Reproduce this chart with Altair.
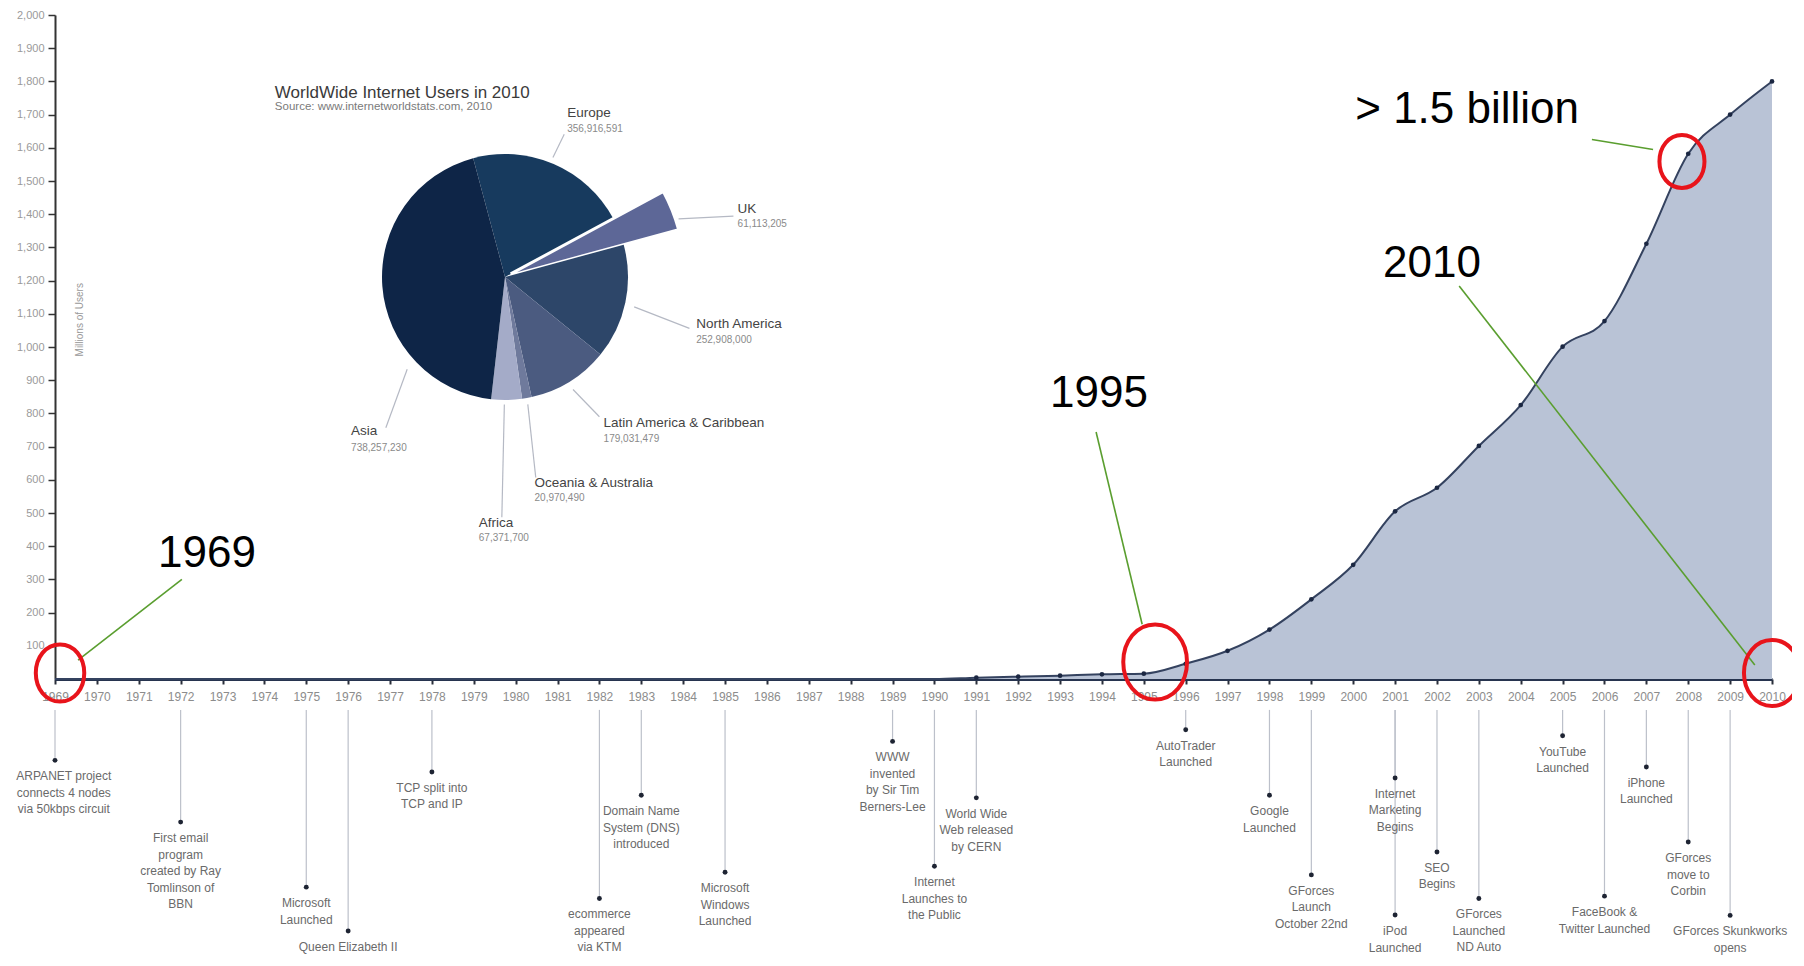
import altair as alt
import pandas as pd

# ---------------- data ----------------
years = list(range(1969, 2011))
users_millions = [0, 0, 0, 0, 0, 0, 0, 0, 0, 0,
                  0, 0, 0, 0, 0, 0, 0, 0, 0, 0,
                  0, 0, 4, 7, 10, 14, 16, 46, 85, 149,
                  240, 344, 505, 576, 702, 825, 1001, 1078, 1311, 1582,
                  1700, 1800]
y_ticks = [100, 200, 300, 400, 500, 600, 700, 800, 900, 1000,
           1100, 1200, 1300, 1400, 1500, 1600, 1700, 1800, 1900, 2000]

pie_regions = ["Europe", "UK", "North America", "Latin America & Caribbean",
               "Oceania & Australia", "Africa", "Asia"]
pie_users = [356916591, 61113205, 252908000, 179031479, 20970490, 67371700, 738257230]
pie_colors = ["#173a5e", "#5d6797", "#2d4669", "#4b5b80", "#6f7a9c", "#a4abc8", "#0e2547"]

event_years = [1969, 1972, 1975, 1976, 1978, 1982, 1983, 1985, 1989, 1990, 1991,
               1996, 1998, 1999, 2001, 2001, 2002, 2003, 2005, 2006, 2007, 2008, 2009]
event_labels = [
    "ARPANET project\nconnects 4 nodes\nvia 50kbps circuit",
    "First email\nprogram\ncreated by Ray\nTomlinson of\nBBN",
    "Microsoft\nLaunched",
    "Queen Elizabeth II",
    "TCP split into\nTCP and IP",
    "ecommerce\nappeared\nvia KTM",
    "Domain Name\nSystem (DNS)\nintroduced",
    "Microsoft\nWindows\nLaunched",
    "WWW\ninvented\nby Sir Tim\nBerners-Lee",
    "Internet\nLaunches to\nthe Public",
    "World Wide\nWeb released\nby CERN",
    "AutoTrader\nLaunched",
    "Google\nLaunched",
    "GForces\nLaunch\nOctober 22nd",
    "Internet\nMarketing\nBegins",
    "iPod\nLaunched",
    "SEO\nBegins",
    "GForces\nLaunched\nND Auto",
    "YouTube\nLaunched",
    "FaceBook &\nTwitter Launched",
    "iPhone\nLaunched",
    "GForces\nmove to\nCorbin",
    "GForces Skunkworks\nopens",
]

# ---------------- annotation layout (in chart units: year / millions) ----------------
event_levels = [-245, -431, -627, -759, -280, -661, -350, -582, -188, -564, -358,
                -153, -350, -590, -298, -711, -521, -661, -171, -654, -265, -491, -712]
event_text_shift = [0.21] + [0] * 22
event_line_top = -93

big_text = ["1969", "1995", "> 1.5 billion", "2010"]
big_x = [1972.63, 1993.93, 2002.72, 2001.88]
big_y = [378, 858, 1715, 1250]
green_x = [1972.03, 1993.86, 2005.70, 2002.53]
green_y = [300, 744, 1625, 1184]
green_x2 = [1969.55, 1994.96, 2007.16, 2009.59]
green_y2 = [57, 165, 1595, 42]
ring_x = [1969.12, 1995.27, 2007.85, 2010.0]
ring_y = [18, 51, 1559, 18]
ring_h = [57, 75, 53, 66]

pie_name_x = [1981.23, 1985.30, 1984.31, 1982.10, 1980.45, 1979.12, 1976.07]
pie_name_y = [1706, 1415, 1070, 771, 591, 471, 747]
pie_value_y = [1658, 1370, 1022, 723, 546, 426, 696]
lead_x = [1981.16, 1983.89, 1982.83, 1981.37, 1980.29, 1979.73, 1977.41]
lead_y = [1641, 1386, 1121, 872, 827, 827, 933]
lead_x2 = [1980.89, 1985.20, 1984.15, 1982.00, 1980.48, 1979.67, 1976.90]
lead_y2 = [1571, 1394, 1056, 790, 607, 487, 757]
PIE_START = 6.0214  # radians, 15 degrees left of 12 o'clock

FONT = "Liberation Sans"

# ---------------- frames ----------------
df = pd.DataFrame({"year": years, "users": users_millions})

df_pie = pd.DataFrame({
    "region": pie_regions,
    "count": pie_users,
    "color": pie_colors,
    "idx": list(range(len(pie_regions))),
})
df_pie["r"] = [180 if r == "UK" else 123 for r in pie_regions]
df_pie["r2"] = [8 if r == "UK" else 0 for r in pie_regions]

df_pie_lab = pd.DataFrame({
    "name": pie_regions,
    "value": [f"{v:,}" for v in pie_users],
    "x": pie_name_x, "y": pie_name_y, "yv": pie_value_y,
    "lx": lead_x, "ly": lead_y, "lx2": lead_x2, "ly2": lead_y2,
})

df_ev = pd.DataFrame({
    "year": event_years,
    "level": event_levels,
    "tx": [y + s for y, s in zip(event_years, event_text_shift)],
    "label": event_labels,
})
df_ev["top"] = event_line_top

df_big = pd.DataFrame({"t": big_text, "x": big_x, "y": big_y})
df_green = pd.DataFrame({"x": green_x, "y": green_y, "x2": green_x2, "y2": green_y2})
df_ring = pd.DataFrame({"x": ring_x, "y": ring_y, "s": [h * h for h in ring_h]})

# ---------------- scales / axes ----------------
XS = alt.Scale(domain=[1969, 2010], nice=False, zero=False)
YS = alt.Scale(domain=[0, 2000], nice=False, zero=False)
XA = alt.Axis(values=years, format="d", title=None, grid=False, labelFontSize=12,
              labelColor="#8c8c8c", labelPadding=7, tickSize=5, tickWidth=2,
              tickColor="#2a2f3a", domainColor="#27344f", domainWidth=3,
              labelFont=FONT, labelFlush=False, labelOverlap=False)
YA = alt.Axis(values=y_ticks, format=",d", title=None, grid=False, labelFontSize=11,
              labelColor="#9a9a9a", tickSize=7, tickWidth=1.5, tickColor="#333333",
              domainColor="#333333", domainWidth=2, labelPadding=4, labelFont=FONT)


def X(f):
    return alt.X(f, type="quantitative", scale=XS, axis=XA)


def Y(f):
    return alt.Y(f, type="quantitative", scale=YS, axis=YA)


base = alt.Chart(df)
area = base.mark_area(interpolate="monotone", color="#b9c3d6", opacity=1).encode(
    x=X("year"), y=Y("users"))
line = base.mark_line(interpolate="monotone", color="#34425f", strokeWidth=2).encode(
    x=X("year"), y=Y("users"))
dots = base.transform_filter("datum.year >= 1991").mark_circle(
    size=22, color="#1b2742", opacity=1).encode(x=X("year"), y=Y("users"))

ytitle = alt.Chart(pd.DataFrame({"t": ["Millions of Users"], "x": [1969.6], "y": [1082]})).mark_text(
    angle=270, fontSize=10, color="#999999", font=FONT).encode(x=X("x"), y=Y("y"), text="t:N")

# pie: cumulative shares -> angles
pie = alt.Chart(df_pie).transform_joinaggregate(
    total="sum(count)"
).transform_window(
    cum="sum(count)", sort=[alt.SortField("idx")], frame=[None, 0]
).transform_calculate(
    t0=f"{PIE_START} + 2*PI*(datum.cum - datum.count)/datum.total",
    t1=f"{PIE_START} + 2*PI*datum.cum/datum.total",
).mark_arc(stroke="white").encode(
    theta=alt.Theta("t0:Q", scale=None),
    theta2="t1:Q",
    radius=alt.Radius("r:Q", scale=None),
    radius2=alt.Radius2("r2:Q"),
    color=alt.Color("color:N", scale=None),
    strokeWidth=alt.condition("datum.region == 'UK'", alt.value(3), alt.value(0)),
    x=alt.value(450), y=alt.value(262),
)
pie_title = alt.Chart(pd.DataFrame({"t": ["WorldWide Internet Users in 2010"], "x": [1974.25], "y": [1766]})).mark_text(
    align="left", baseline="middle", fontSize=17, color="#3a3a3a", font=FONT).encode(
    x=X("x"), y=Y("y"), text="t:N")
pie_src = alt.Chart(pd.DataFrame({"t": ["Source: www.internetworldstats.com, 2010"], "x": [1974.25], "y": [1724]})).mark_text(
    align="left", baseline="middle", fontSize=11.5, color="#7a7a7a", font=FONT).encode(
    x=X("x"), y=Y("y"), text="t:N")
lab_base = alt.Chart(df_pie_lab)
pie_names = lab_base.mark_text(align="left", baseline="middle", fontSize=13.5, color="#444444", font=FONT).encode(
    x=X("x"), y=Y("y"), text="name:N")
pie_vals = lab_base.mark_text(align="left", baseline="middle", fontSize=10, color="#8a8a8a", font=FONT).encode(
    x=X("x"), y=Y("yv"), text="value:N")
leaders = lab_base.mark_rule(color="#b5b9c4", strokeWidth=1.2).encode(
    x=X("lx"), y=Y("ly"), x2="lx2:Q", y2="ly2:Q")

# events
ev_base = alt.Chart(df_ev)
ev_rules = ev_base.mark_rule(color="#bcc0ca", strokeWidth=1.2).encode(
    x=X("year"), y=Y("top"), y2="level:Q")
ev_dots = ev_base.mark_circle(size=24, color="#1e2433", opacity=1).encode(
    x=X("year"), y=Y("level"))
ev_text = ev_base.mark_text(align="center", baseline="top", dy=11, lineHeight=16.5,
                            fontSize=12, color="#6a6a6a", font=FONT, lineBreak="\n").encode(
    x=X("tx"), y=Y("level"), text="label:N")

# big annotations
green = alt.Chart(df_green).mark_rule(color="#5a9e2f", strokeWidth=1.6).encode(
    x=X("x"), y=Y("y"), x2="x2:Q", y2="y2:Q")
ELLIPSE = ("M0,-1 C0.5,-1 0.85,-0.55 0.85,0 C0.85,0.55 0.5,1 0,1 "
           "C-0.5,1 -0.85,0.55 -0.85,0 C-0.85,-0.55 -0.5,-1 0,-1 Z")
rings = alt.Chart(df_ring).mark_point(shape=ELLIPSE, filled=False, color="#e8141b",
                                      strokeWidth=4, opacity=1).encode(
    x=X("x"), y=Y("y"), size=alt.Size("s:Q", scale=None))
big = alt.Chart(df_big).mark_text(fontSize=44, font=FONT, color="black",
                                  align="center", baseline="middle").encode(
    x=X("x"), y=Y("y"), text="t:N")

chart = alt.layer(
    area, line, dots, ytitle,
    pie, leaders, pie_title, pie_src, pie_names, pie_vals,
    ev_rules, ev_dots, ev_text,
    green, rings, big,
).properties(
    width=1717, height=664,
    padding={"left": 47, "top": 7, "right": 20, "bottom": 276},
    autosize=alt.AutoSizeParams(type="none"),
    background="white",
).configure_view(stroke=None)

chart.save("out.html", embed_options={"renderer": "svg", "actions": False})
